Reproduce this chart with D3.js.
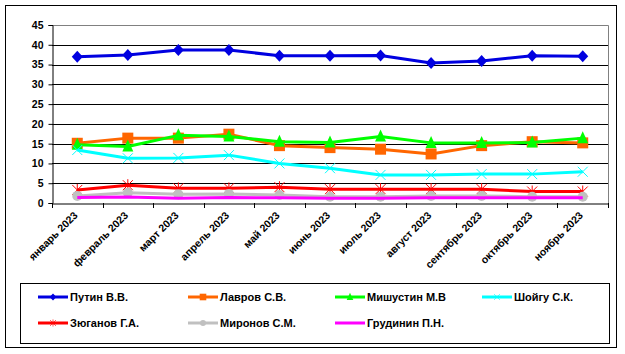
<!DOCTYPE html>
<html><head><meta charset="utf-8">
<script src="https://cdn.jsdelivr.net/npm/d3@7"></script>
<style>
html,body{margin:0;padding:0;background:#fff;}
text{font-family:"Liberation Sans",Arial,sans-serif;font-weight:bold;}
</style></head>
<body><svg id="c" width="625" height="354"></svg>
<script>
const months = ["январь 2023","февраль 2023","март 2023","апрель 2023","май 2023","июнь 2023","июль 2023","август 2023","сентябрь 2023","октябрь 2023","ноябрь 2023"];
const yTicks = [0,5,10,15,20,25,30,35,40,45];
const putin     = [37.0,37.4,38.7,38.7,37.2,37.2,37.3,35.4,35.9,37.2,37.1];
const lavrov    = [15.1,16.4,16.4,17.4,14.5,14.0,13.6,12.4,14.5,15.5,15.2];
const mishustin = [14.7,14.3,17.1,16.8,15.5,15.3,16.8,15.2,15.2,15.3,16.4];
const shoigu    = [13.4,11.3,11.4,12.1,10.0,8.8,7.1,7.1,7.3,7.3,7.9];
const zyuganov  = [3.3,4.5,3.7,3.7,4.0,3.5,3.5,3.5,3.5,2.9,2.9];
const mironov   = [1.8,2.6,2.2,2.3,2.0,1.6,1.6,1.8,1.8,1.6,1.6];
const grudinin  = [1.4,1.5,1.2,1.4,1.3,1.2,1.2,1.3,1.3,1.3,1.3];
const seriesNames = ["Путин В.В.","Лавров С.В.","Мишустин М.В","Шойгу С.К.","Зюганов Г.А.","Миронов С.М.","Грудинин П.Н."];

const series = [
  {name:seriesNames[0], values:putin, color:"#0000e0", marker:"diamond"},
  {name:seriesNames[1], values:lavrov, color:"#ff6600", marker:"square"},
  {name:seriesNames[2], values:mishustin, color:"#00ff00", marker:"triangle"},
  {name:seriesNames[3], values:shoigu, color:"#00ffff", marker:"x"},
  {name:seriesNames[4], values:zyuganov, color:"#ff0000", marker:"star"},
  {name:seriesNames[5], values:mironov, color:"#c0c0c0", marker:"circle"},
  {name:seriesNames[6], values:grudinin, color:"#ff00ff", marker:"none"}
];

const svg = d3.select("#c");
svg.append("rect").attr("x",5.5).attr("y",5.5).attr("width",611).attr("height",342)
  .attr("fill","#fff").attr("stroke","#000").attr("stroke-width",1);

const L=52, R=608, T=25, B=203;
const x = d3.scaleBand().domain(months).range([L,R]);
const y = d3.scaleLinear().domain([0,45]).range([B,T]);

svg.append("g").selectAll("line").data(yTicks.filter(v=>v>0 && v<45)).join("line")
  .attr("x1",L).attr("x2",R).attr("y1",d=>Math.round(y(d))+0.5).attr("y2",d=>Math.round(y(d))+0.5)
  .attr("stroke","#000").attr("stroke-width",1);
svg.append("path").attr("d",`M${L},${T+0.5}H${R+0.5}V${B}`).attr("fill","none").attr("stroke","#808080");

const yAx = svg.append("g").attr("transform",`translate(${L+0.5},0)`)
  .call(d3.axisLeft(y).tickValues(yTicks).tickSize(4).tickPadding(5).tickFormat(d3.format("d")));
yAx.select(".domain").attr("stroke","#000");
yAx.selectAll(".tick line").attr("stroke","#000");
yAx.selectAll("text").attr("font-size","10.5px").attr("fill","#000").style("font-family","Liberation Sans, Arial").style("font-weight","bold");

const xAx = svg.append("g").attr("transform",`translate(0,${B+0.5})`)
  .call(d3.axisBottom(x).tickSize(0).tickFormat(""));
xAx.select(".domain").attr("stroke","#000");
const bounds = months.map(m=>x(m)).concat([R]);
svg.append("g").selectAll("line").data(bounds).join("line")
  .attr("x1",d=>Math.round(d)+0.5).attr("x2",d=>Math.round(d)+0.5).attr("y1",B).attr("y2",B+5).attr("stroke","#000");
svg.append("g").selectAll("text").data(months).join("text")
  .attr("transform",d=>`translate(${x(d)+x.bandwidth()/2+1},${B+13}) rotate(-45)`)
  .attr("text-anchor","end").attr("font-size","10.5px").attr("fill","#000").text(d=>d);

const cx = m => x(m)+x.bandwidth()/2;
const line = d3.line().x((d,i)=>cx(months[i])).y(d=>y(d));

function drawMarker(g, type, color, px, py){
  if(type==="diamond"){
    g.append("path").attr("d",`M${px},${py-6}L${px+5.5},${py}L${px},${py+6}L${px-5.5},${py}Z`).attr("fill",color);
  } else if(type==="square"){
    g.append("rect").attr("x",px-5.5).attr("y",py-5.5).attr("width",11).attr("height",11).attr("fill",color);
  } else if(type==="triangle"){
    g.append("path").attr("d",`M${px},${py-7}L${px+5.5},${py+5}L${px-5.5},${py+5}Z`).attr("fill",color);
  } else if(type==="x"){
    g.append("path").attr("d",`M${px-5},${py-5}L${px+5},${py+5}M${px+5},${py-5}L${px-5},${py+5}`).attr("stroke",color).attr("stroke-width",1);
  } else if(type==="star"){
    g.append("path").attr("d",`M${px-5},${py-5}L${px+5},${py+5}M${px+5},${py-5}L${px-5},${py+5}M${px},${py-6}V${py+6}`).attr("stroke",color).attr("stroke-width",1);
  } else if(type==="circle"){
    g.append("circle").attr("cx",px).attr("cy",py).attr("r",5).attr("fill",color);
  }
}

series.forEach(s=>{
  const g = svg.append("g");
  g.append("path").datum(s.values).attr("d",line).attr("fill","none")
    .attr("stroke",s.color).attr("stroke-width",3).attr("stroke-linejoin","round");
  s.values.forEach((v,i)=>drawMarker(g,s.marker,s.color,cx(months[i]),y(v)));
});

svg.append("rect").attr("x",20.5).attr("y",283.5).attr("width",589).attr("height",60)
  .attr("fill","#fff").attr("stroke","#000");
const colX = [38,188,335,482], rowY=[297,323];
series.forEach((s,i)=>{
  const lx = colX[i%4], ly = rowY[Math.floor(i/4)];
  const g = svg.append("g");
  g.append("line").attr("x1",lx).attr("x2",lx+30).attr("y1",ly).attr("y2",ly).attr("stroke",s.color).attr("stroke-width",3);
  if(s.marker!=="none"){
    const sub = g.append("g").attr("transform",`translate(${lx+15},${ly}) scale(0.6) translate(${-(lx+15)},${-ly})`);
    drawMarker(sub,s.marker,s.color,lx+15,ly);
  }
  g.append("text").attr("x",lx+32).attr("y",ly+4).attr("font-size","11px").attr("fill","#000").text(s.name);
});
</script></body></html>
